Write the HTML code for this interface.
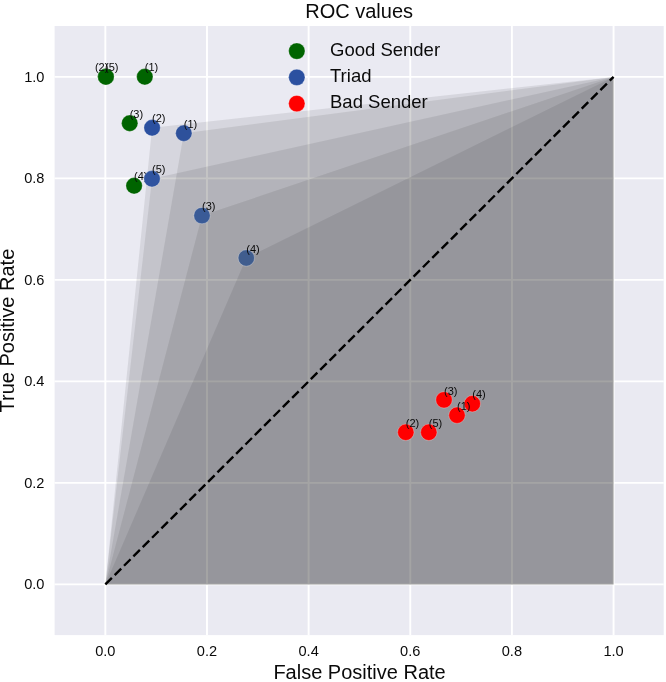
<!DOCTYPE html>
<html><head><meta charset="utf-8"><title>ROC values</title><style>
html,body{margin:0;padding:0;background:#fff;width:666px;height:682px;overflow:hidden;}
svg{display:block;will-change:transform;font-family:"Liberation Sans",sans-serif;}
text{fill:#0a0a0a;}
</style></head><body>
<svg width="666" height="682" viewBox="0 0 666 682">
<rect x="54.60" y="26.00" width="609.10" height="609.10" fill="#EAEAF2"/>
<line x1="105.35" y1="26.00" x2="105.35" y2="635.10" stroke="#ffffff" stroke-width="1.9"/>
<line x1="54.60" y1="584.40" x2="663.70" y2="584.40" stroke="#ffffff" stroke-width="1.9"/>
<line x1="206.99" y1="26.00" x2="206.99" y2="635.10" stroke="#ffffff" stroke-width="1.9"/>
<line x1="54.60" y1="482.90" x2="663.70" y2="482.90" stroke="#ffffff" stroke-width="1.9"/>
<line x1="308.63" y1="26.00" x2="308.63" y2="635.10" stroke="#ffffff" stroke-width="1.9"/>
<line x1="54.60" y1="381.40" x2="663.70" y2="381.40" stroke="#ffffff" stroke-width="1.9"/>
<line x1="410.27" y1="26.00" x2="410.27" y2="635.10" stroke="#ffffff" stroke-width="1.9"/>
<line x1="54.60" y1="279.90" x2="663.70" y2="279.90" stroke="#ffffff" stroke-width="1.9"/>
<line x1="511.91" y1="26.00" x2="511.91" y2="635.10" stroke="#ffffff" stroke-width="1.9"/>
<line x1="54.60" y1="178.40" x2="663.70" y2="178.40" stroke="#ffffff" stroke-width="1.9"/>
<line x1="613.55" y1="26.00" x2="613.55" y2="635.10" stroke="#ffffff" stroke-width="1.9"/>
<line x1="54.60" y1="76.90" x2="663.70" y2="76.90" stroke="#ffffff" stroke-width="1.9"/>
<polygon points="105.35,584.40 183.80,133.20 613.55,76.90 613.55,584.40" fill="#000000" fill-opacity="0.082"/>
<polygon points="105.35,584.40 152.10,127.80 613.55,76.90 613.55,584.40" fill="#000000" fill-opacity="0.082"/>
<polygon points="105.35,584.40 202.00,215.60 613.55,76.90 613.55,584.40" fill="#000000" fill-opacity="0.082"/>
<polygon points="105.35,584.40 246.30,258.00 613.55,76.90 613.55,584.40" fill="#000000" fill-opacity="0.082"/>
<polygon points="105.35,584.40 152.00,178.80 613.55,76.90 613.55,584.40" fill="#000000" fill-opacity="0.082"/>
<line x1="105.35" y1="584.40" x2="613.55" y2="76.90" stroke="#000" stroke-width="2.4" stroke-dasharray="9.2 4.0"/>
<circle cx="105.90" cy="76.80" r="8.2" fill="#006400" stroke="#fff" stroke-opacity="0.4" stroke-width="0.7"/>
<circle cx="105.90" cy="76.80" r="8.2" fill="#006400" stroke="#fff" stroke-opacity="0.4" stroke-width="0.7"/>
<circle cx="144.80" cy="76.80" r="8.2" fill="#006400" stroke="#fff" stroke-opacity="0.4" stroke-width="0.7"/>
<circle cx="129.70" cy="123.20" r="8.2" fill="#006400" stroke="#fff" stroke-opacity="0.4" stroke-width="0.7"/>
<circle cx="134.10" cy="185.80" r="8.2" fill="#006400" stroke="#fff" stroke-opacity="0.4" stroke-width="0.7"/>
<text x="94.90" y="71.40" font-size="11">(2)</text>
<text x="105.10" y="71.40" font-size="11">(5)</text>
<text x="144.80" y="71.40" font-size="11">(1)</text>
<text x="129.70" y="117.80" font-size="11">(3)</text>
<text x="134.10" y="180.40" font-size="11">(4)</text>
<circle cx="183.80" cy="133.20" r="8.2" fill="#2e519b" stroke="#fff" stroke-opacity="0.4" stroke-width="0.7"/>
<circle cx="152.10" cy="127.80" r="8.2" fill="#2b50a0" stroke="#fff" stroke-opacity="0.4" stroke-width="0.7"/>
<circle cx="202.00" cy="215.60" r="8.2" fill="#3a5b97" stroke="#fff" stroke-opacity="0.4" stroke-width="0.7"/>
<circle cx="246.30" cy="258.00" r="8.2" fill="#405d8e" stroke="#fff" stroke-opacity="0.4" stroke-width="0.7"/>
<circle cx="152.00" cy="178.80" r="8.2" fill="#3054a0" stroke="#fff" stroke-opacity="0.4" stroke-width="0.7"/>
<text x="183.80" y="127.80" font-size="11">(1)</text>
<text x="152.10" y="122.40" font-size="11">(2)</text>
<text x="202.00" y="210.20" font-size="11">(3)</text>
<text x="246.30" y="252.60" font-size="11">(4)</text>
<text x="152.00" y="173.40" font-size="11">(5)</text>
<circle cx="457.00" cy="415.20" r="8.2" fill="#ff0000" stroke="#fff" stroke-opacity="0.4" stroke-width="0.7"/>
<circle cx="405.80" cy="432.30" r="8.2" fill="#ff0000" stroke="#fff" stroke-opacity="0.4" stroke-width="0.7"/>
<circle cx="444.00" cy="399.90" r="8.2" fill="#ff0000" stroke="#fff" stroke-opacity="0.4" stroke-width="0.7"/>
<circle cx="472.30" cy="403.70" r="8.2" fill="#ff0000" stroke="#fff" stroke-opacity="0.4" stroke-width="0.7"/>
<circle cx="428.80" cy="432.30" r="8.2" fill="#ff0000" stroke="#fff" stroke-opacity="0.4" stroke-width="0.7"/>
<text x="457.00" y="409.80" font-size="11">(1)</text>
<text x="405.80" y="426.90" font-size="11">(2)</text>
<text x="444.00" y="394.50" font-size="11">(3)</text>
<text x="472.30" y="398.30" font-size="11">(4)</text>
<text x="428.80" y="426.90" font-size="11">(5)</text>
<circle cx="296.80" cy="51.10" r="8.2" fill="#006400" stroke="#fff" stroke-opacity="0.4" stroke-width="0.7"/>
<text x="330" y="55.60" font-size="18.5">Good Sender</text>
<circle cx="296.80" cy="77.35" r="8.2" fill="#2b50a0" stroke="#fff" stroke-opacity="0.4" stroke-width="0.7"/>
<text x="330" y="82.00" font-size="18.5">Triad</text>
<circle cx="296.80" cy="103.60" r="8.2" fill="#ff0000" stroke="#fff" stroke-opacity="0.4" stroke-width="0.7"/>
<text x="330" y="108.40" font-size="18.5">Bad Sender</text>
<text x="105.35" y="655.6" font-size="14.6" text-anchor="middle">0.0</text>
<text x="44.5" y="589.40" font-size="14.6" text-anchor="end">0.0</text>
<text x="206.99" y="655.6" font-size="14.6" text-anchor="middle">0.2</text>
<text x="44.5" y="487.90" font-size="14.6" text-anchor="end">0.2</text>
<text x="308.63" y="655.6" font-size="14.6" text-anchor="middle">0.4</text>
<text x="44.5" y="386.40" font-size="14.6" text-anchor="end">0.4</text>
<text x="410.27" y="655.6" font-size="14.6" text-anchor="middle">0.6</text>
<text x="44.5" y="284.90" font-size="14.6" text-anchor="end">0.6</text>
<text x="511.91" y="655.6" font-size="14.6" text-anchor="middle">0.8</text>
<text x="44.5" y="183.40" font-size="14.6" text-anchor="end">0.8</text>
<text x="613.55" y="655.6" font-size="14.6" text-anchor="middle">1.0</text>
<text x="44.5" y="81.90" font-size="14.6" text-anchor="end">1.0</text>
<text x="359.15" y="17.5" font-size="20" text-anchor="middle">ROC values</text>
<text x="359.55" y="678.8" font-size="20" text-anchor="middle">False Positive Rate</text>
<text transform="translate(14.4,330.60) rotate(-90)" x="0" y="0" font-size="20" text-anchor="middle">True Positive Rate</text>
</svg>
</body></html>
